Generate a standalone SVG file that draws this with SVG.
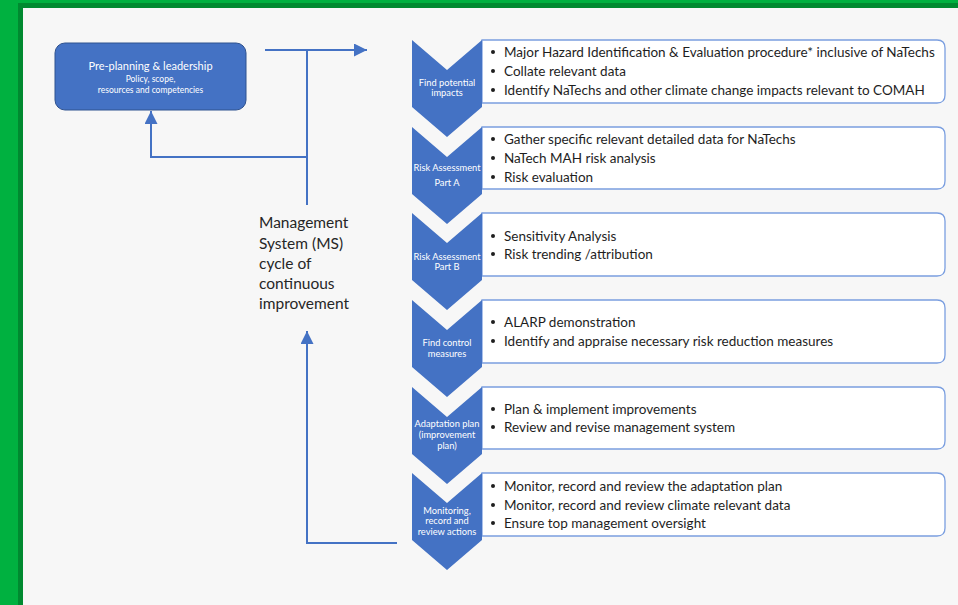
<svg xmlns="http://www.w3.org/2000/svg" width="958" height="605" viewBox="0 0 958 605">
<defs>
<marker id="ah" markerUnits="userSpaceOnUse" markerWidth="14" markerHeight="14" refX="13" refY="6.5" orient="auto">
<path d="M0,0 L13,6.5 L0,13 z" fill="#4472c4"/>
</marker>
<style>
.chev{fill:#4472c4;}
.box{fill:#ffffff;stroke:#7b9fe0;stroke-width:1.3;}
.cl{font-family:Lato,"Open Sans",sans-serif;font-size:9.3px;fill:#ffffff;text-anchor:middle;}
.bt{font-family:Lato,"Open Sans",sans-serif;font-size:13.5px;fill:#1e1e1e;}
.bul{fill:#1e1e1e;}
.con{fill:none;stroke:#4472c4;stroke-width:2;}
.ms{font-family:Lato,"Open Sans",sans-serif;font-size:15.5px;fill:#262626;}
</style>
</defs>
<rect x="0" y="0" width="958" height="605" fill="#00b140"/>
<rect x="18" y="3" width="940" height="602" fill="#008a30"/>
<rect x="23" y="8" width="935" height="597" fill="#f7f7f7"/>

<g id="preplanning">
<rect x="55" y="43" width="191" height="67" rx="10" fill="#4472c4" stroke="#2f528f" stroke-width="1"/>
<text x="150.5" y="70" font-family="Lato,'Open Sans',sans-serif" font-size="11px" fill="#ffffff" text-anchor="middle">Pre-planning &amp; leadership</text>
<text x="150.5" y="82" font-family="Lato,'Open Sans',sans-serif" font-size="8.5px" fill="#ffffff" text-anchor="middle">Policy, scope,</text>
<text x="150.5" y="93" font-family="Lato,'Open Sans',sans-serif" font-size="8.5px" fill="#ffffff" text-anchor="middle">resources and competencies</text>
</g>

<g id="connectors">
<path class="con" d="M265,50 H367" marker-end="url(#ah)"/>
<path class="con" d="M307,50 V205"/>
<path class="con" d="M307,157 H151 V111" marker-end="url(#ah)"/>
<path class="con" d="M397,543 H307 V331" marker-end="url(#ah)"/>
</g>

<g id="ms-label">
<text class="ms" x="259" y="228">Management</text>
<text class="ms" x="259" y="249">System (MS)</text>
<text class="ms" x="259" y="269">cycle of</text>
<text class="ms" x="259" y="289">continuous</text>
<text class="ms" x="259" y="309">improvement</text>
</g>

<g id="step1">
<path class="box" d="M482,40 H937 Q945,40 945,48 V95 Q945,103 937,103 H482 Z"/>
<polygon class="chev" points="412,40 447,70 482,40 482,107 447,137 412,107"/>
<text class="cl" x="447" y="86">Find potential</text>
<text class="cl" x="447" y="96">impacts</text>
<circle class="bul" cx="493" cy="52" r="2"/><text class="bt" x="504" y="57">Major Hazard Identification &amp; Evaluation procedure* inclusive of NaTechs</text>
<circle class="bul" cx="493" cy="71" r="2"/><text class="bt" x="504" y="76">Collate relevant data</text>
<circle class="bul" cx="493" cy="90" r="2"/><text class="bt" x="504" y="95">Identify NaTechs and other climate change impacts relevant to COMAH</text>
</g>

<g id="step2">
<path class="box" d="M482,127 H937 Q945,127 945,135 V181 Q945,189 937,189 H482 Z"/>
<polygon class="chev" points="412,127 447,157 482,127 482,194 447,224 412,194"/>
<text class="cl" x="447" y="171">Risk Assessment</text>
<text class="cl" x="447" y="186">Part A</text>
<circle class="bul" cx="493" cy="139" r="2"/><text class="bt" x="504" y="144">Gather specific relevant detailed data for NaTechs</text>
<circle class="bul" cx="493" cy="158" r="2"/><text class="bt" x="504" y="163">NaTech MAH risk analysis</text>
<circle class="bul" cx="493" cy="177" r="2"/><text class="bt" x="504" y="182">Risk evaluation</text>
</g>

<g id="step3">
<path class="box" d="M482,213 H937 Q945,213 945,221 V268 Q945,276 937,276 H482 Z"/>
<polygon class="chev" points="412,213 447,243 482,213 482,280 447,310 412,280"/>
<text class="cl" x="447" y="260">Risk Assessment</text>
<text class="cl" x="447" y="270">Part B</text>
<circle class="bul" cx="493" cy="236" r="2"/><text class="bt" x="504" y="241">Sensitivity Analysis</text>
<circle class="bul" cx="493" cy="254" r="2"/><text class="bt" x="504" y="259">Risk trending /attribution</text>
</g>

<g id="step4">
<path class="box" d="M482,300 H937 Q945,300 945,308 V355 Q945,363 937,363 H482 Z"/>
<polygon class="chev" points="412,300 447,330 482,300 482,367 447,397 412,367"/>
<text class="cl" x="447" y="346">Find control</text>
<text class="cl" x="447" y="357">measures</text>
<circle class="bul" cx="493" cy="322" r="2"/><text class="bt" x="504" y="327">ALARP demonstration</text>
<circle class="bul" cx="493" cy="341" r="2"/><text class="bt" x="504" y="346">Identify and appraise necessary risk reduction measures</text>
</g>

<g id="step5">
<path class="box" d="M482,387 H937 Q945,387 945,395 V441 Q945,449 937,449 H482 Z"/>
<polygon class="chev" points="412,387 447,417 482,387 482,454 447,484 412,454"/>
<text class="cl" x="447" y="427">Adaptation plan</text>
<text class="cl" x="447" y="438">(improvement</text>
<text class="cl" x="447" y="449">plan)</text>
<circle class="bul" cx="493" cy="409" r="2"/><text class="bt" x="504" y="414">Plan &amp; implement improvements</text>
<circle class="bul" cx="493" cy="427" r="2"/><text class="bt" x="504" y="432">Review and revise management system</text>
</g>

<g id="step6">
<path class="box" d="M482,473 H937 Q945,473 945,481 V528 Q945,536 937,536 H482 Z"/>
<polygon class="chev" points="412,473 447,503 482,473 482,540 447,570 412,540"/>
<text class="cl" x="447" y="514">Monitoring,</text>
<text class="cl" x="447" y="524">record and</text>
<text class="cl" x="447" y="535">review actions</text>
<circle class="bul" cx="493" cy="486" r="2"/><text class="bt" x="504" y="491">Monitor, record and review the adaptation plan</text>
<circle class="bul" cx="493" cy="505" r="2"/><text class="bt" x="504" y="510">Monitor, record and review climate relevant data</text>
<circle class="bul" cx="493" cy="523" r="2"/><text class="bt" x="504" y="528">Ensure top management oversight</text>
</g>
</svg>
